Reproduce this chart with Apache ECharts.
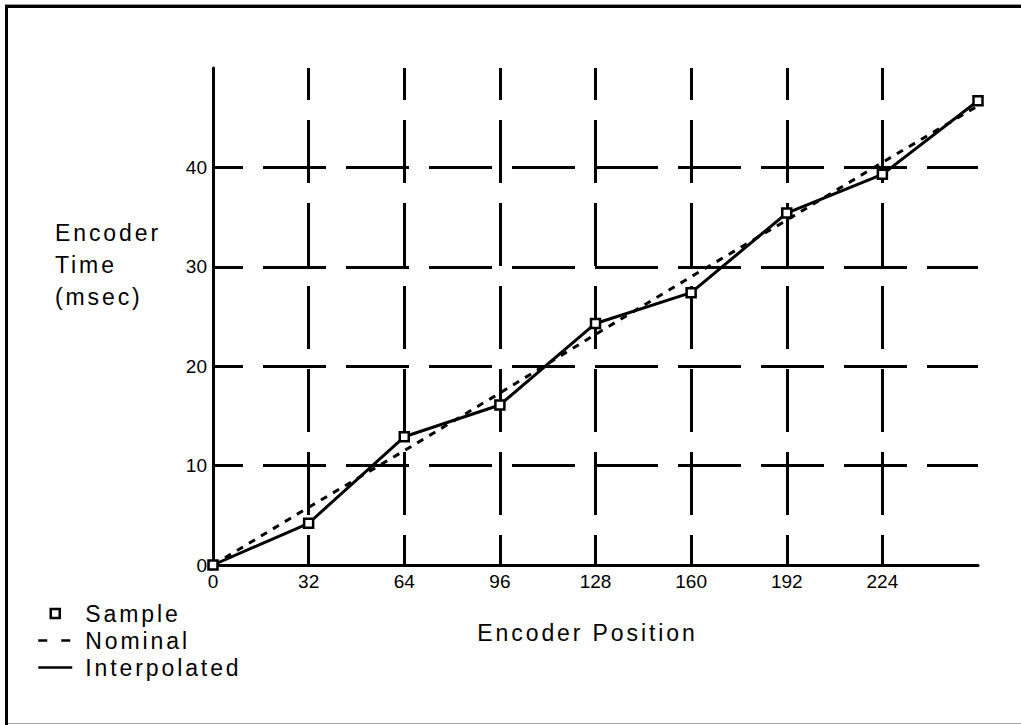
<!DOCTYPE html>
<html>
<head>
<meta charset="utf-8">
<title>Encoder Time vs Encoder Position</title>
<script src="https://cdn.jsdelivr.net/npm/echarts@6/dist/echarts.min.js"></script>
<style>
  html, body { margin: 0; padding: 0; background: #fff; }
  #chart { width: 1021px; height: 725px; }
  /* the big captions in the original are set with wide spacing */
  #chart text[style*="sans-serif"] { letter-spacing: 2.9px; }
</style>
</head>
<body>
<div id="chart"></div>
<script>
// encoder positions (x) and times in msec (y)
var positions = [0, 32, 64, 96, 128, 160, 192, 224, 256];
var sampleTimes = [0, 4.2, 12.9, 16.1, 24.3, 27.4, 35.4, 39.3, 46.7];
var nominalTimes = [0, 5.8, 11.5, 17.3, 23.2, 29.0, 34.7, 40.5, 46.2];

function pairs(xs, ys) {
    var out = [];
    for (var i = 0; i < xs.length; i++) {
        out.push([xs[i], ys[i]]);
    }
    return out;
}

var font = 'Liberation Sans';
var captionFont = 'Liberation Sans, sans-serif';
var chart = echarts.init(document.getElementById('chart'), null, { renderer: 'svg' });

var option = {
    animation: false,
    backgroundColor: '#fff',
    textStyle: { fontFamily: font, color: '#000' },
    grid: { left: 213, right: 43, top: 68, bottom: 160 },
    legend: {
        orient: 'vertical',
        left: 37,
        top: 602,
        padding: 0,
        itemWidth: 34,
        itemHeight: 9,
        itemGap: 4,
        symbolKeepAspect: true,
        selectedMode: false,
        textStyle: { fontFamily: captionFont, fontSize: 23, color: '#000', padding: [0, 0, 0, 8] },
        data: [
            { name: 'Sample', icon: 'path://M0,0H10V10H0Z',
              itemStyle: { color: '#fff', borderColor: '#000', borderWidth: 2.5 } },
            { name: 'Nominal',
              itemStyle: { opacity: 0 },
              lineStyle: { color: '#000', width: 2.5, type: [9, 14], opacity: 1 } },
            { name: 'Interpolated',
              itemStyle: { opacity: 0 },
              lineStyle: { color: '#000', width: 2.5, type: 'solid', opacity: 1 } }
        ]
    },
    xAxis: {
        type: 'value',
        min: 0,
        max: 256,
        interval: 32,
        name: 'Encoder Position',
        nameLocation: 'middle',
        nameGap: 68,
        nameTextStyle: { fontFamily: captionFont, fontSize: 23, color: '#000', verticalAlign: 'middle', padding: [0, 16, 0, 0] },
        axisLine: { lineStyle: { color: '#000', width: 3 } },
        axisTick: { show: false },
        axisLabel: { showMaxLabel: false, margin: 7, fontSize: 19, color: '#000', fontFamily: font },
        splitLine: {
            show: true,
            showMinLine: false,
            showMaxLine: false,
            lineStyle: { color: '#000', width: 3, type: [63, 20], dashOffset: 31 }
        }
    },
    yAxis: {
        type: 'value',
        min: 0,
        max: 50,
        interval: 10,
        name: 'Encoder\nTime\n(msec)',
        nameLocation: 'middle',
        nameRotate: 0,
        nameGap: 158,
        nameTextStyle: {
            fontFamily: captionFont, fontSize: 23, color: '#000', align: 'left',
            verticalAlign: 'bottom', lineHeight: 32, padding: [0, 0, 4, 0]
        },
        axisLine: { show: true, lineStyle: { color: '#000', width: 3 } },
        axisTick: { show: false },
        axisLabel: { showMaxLabel: false, margin: 6, fontSize: 19, color: '#000', fontFamily: font },
        splitLine: {
            show: true,
            showMinLine: false,
            showMaxLine: false,
            lineStyle: { color: '#000', width: 3, type: [63, 20], dashOffset: 33 }
        }
    },
    series: [
        {
            name: 'Nominal',
            type: 'line',
            symbol: 'none',
            z: 3,
            lineStyle: { color: '#000', width: 3, type: [7, 7] },
            itemStyle: { color: '#000' },
            data: pairs(positions, nominalTimes)
        },
        {
            name: 'Interpolated',
            type: 'line',
            symbol: 'none',
            z: 4,
            lineStyle: { color: '#000', width: 3 },
            itemStyle: { color: '#000' },
            data: pairs(positions, sampleTimes)
        },
        {
            name: 'Sample',
            type: 'scatter',
            symbol: 'rect',
            symbolSize: 9,
            z: 5,
            itemStyle: { color: '#fff', borderColor: '#000', borderWidth: 2.5, opacity: 1 },
            data: pairs(positions, sampleTimes)
        }
    ],
    graphic: [
        { type: 'rect', shape: { x: 5, y: 4, width: 1016, height: 1 }, style: { fill: '#9a9a9a' }, silent: true },
        { type: 'rect', shape: { x: 5, y: 5, width: 1016, height: 3 }, style: { fill: '#000' }, silent: true },
        { type: 'rect', shape: { x: 5, y: 5, width: 3, height: 720 }, style: { fill: '#000' }, silent: true },
        { type: 'rect', shape: { x: 8, y: 723, width: 1013, height: 1 }, style: { fill: '#a0a0a0' }, silent: true }
    ]
};

chart.setOption(option);
</script>
</body>
</html>
